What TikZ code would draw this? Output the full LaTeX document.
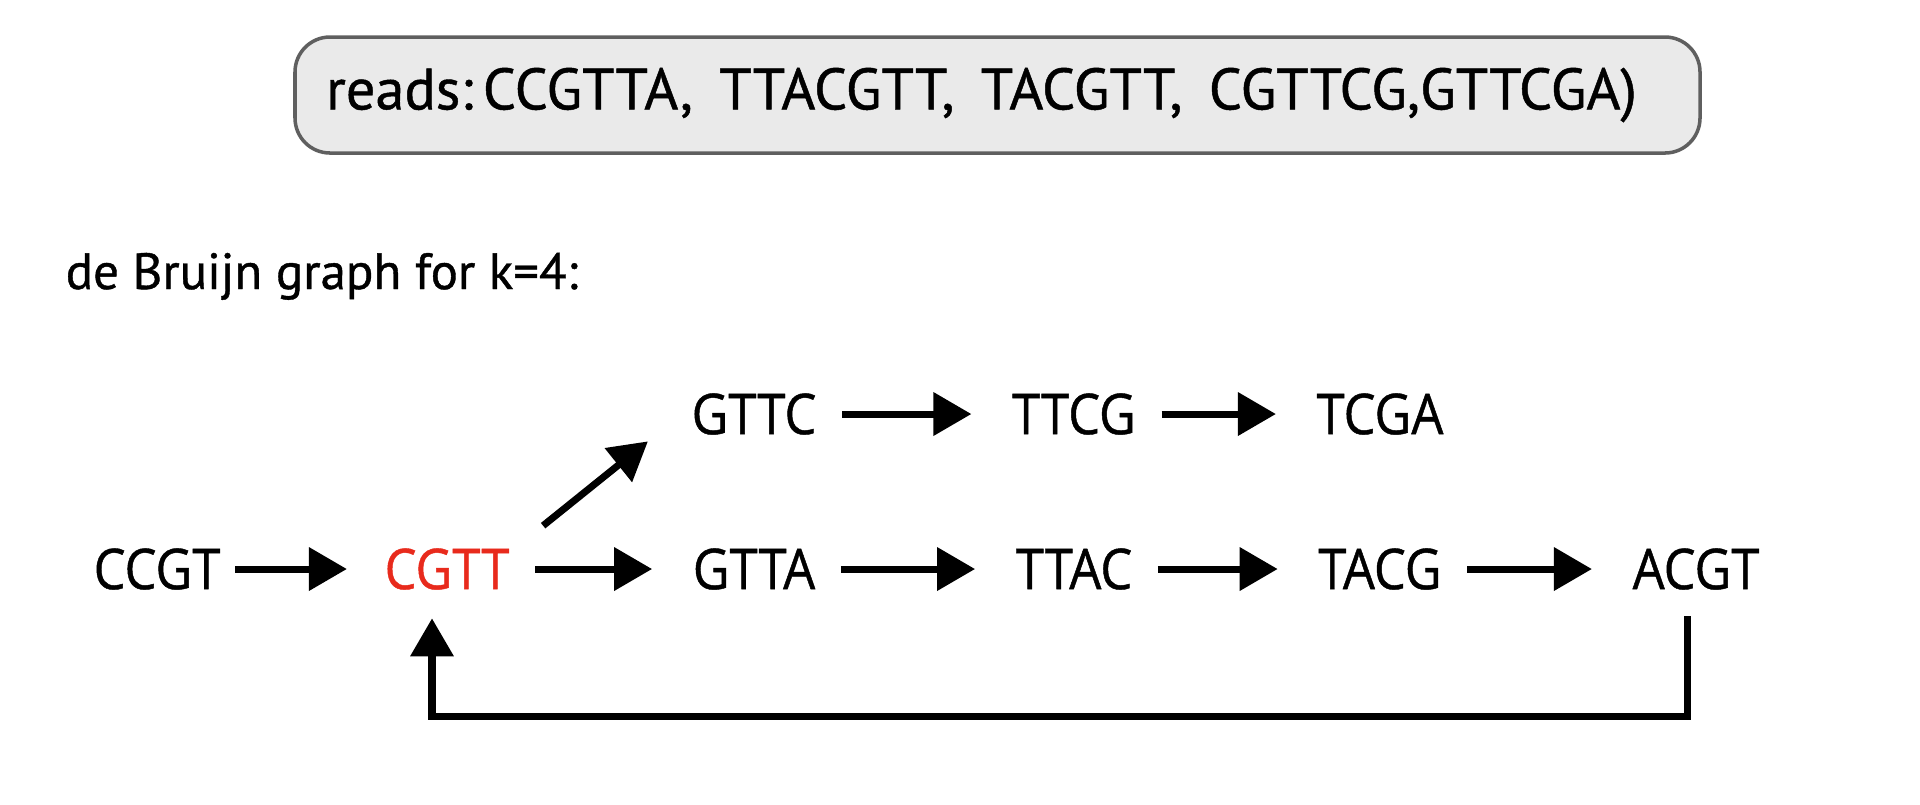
\documentclass[tikz,border=0pt]{standalone}
\usepackage{fontspec}
\usetikzlibrary{arrows.meta}
\newfontfamily\readsfont[FakeBold=0.8]{PT Sans}
\newfontfamily\kmerfont[FakeStretch=0.9,FakeBold=0.8]{Open Sans}
\definecolor{boxgray}{RGB}{234,234,234}
\definecolor{boxline}{RGB}{95,95,95}
\definecolor{kred}{RGB}{232,42,28}

\begin{document}
\begin{tikzpicture}[
  readsbox/.style={rectangle, draw=boxline, fill=boxgray, line width=1pt, rounded corners=0.35cm, text width=13.43cm, inner xsep=0.31cm, align=left, minimum height=1.16cm, font=\readsfont\fontsize{16.6}{19}\selectfont},
  kmer/.style={inner sep=0pt, font=\kmerfont\fontsize{16}{19}\selectfont},
  line/.style={draw, -{Triangle[length=0.38cm,width=0.42cm]}, line width=2pt, shorten <=0.25cm, shorten >=0.4cm}
]
\useasboundingbox (0,0) rectangle (19.2,-8.04);

\node [readsbox] (reads) at (9.975,-0.95) {reads:\,CCGTTA,\hspace{0.45em}TTACGTT,\hspace{0.45em}TACGTT,\hspace{0.45em}CGTTCG,GTTCGA)};
\node [anchor=base west, inner sep=0pt, font=\readsfont\fontsize{14.5}{17}\selectfont] (title) at (0.65,-2.89) {de Bruijn graph for k=4:};

% lower row
\node [kmer] (ccgt) at (1.57,-5.69) {CCGT};
\node [kmer, right of=ccgt, node distance=2.9cm, text=kred] (cgtt) {CGTT};
\node [kmer, right of=cgtt, node distance=3.07cm] (gtta) {GTTA};
\node [kmer, right of=gtta, node distance=3.2cm] (ttac) {TTAC};
\node [kmer, right of=ttac, node distance=3.06cm] (tacg) {TACG};
\node [kmer, right of=tacg, node distance=3.16cm] (acgt) {ACGT};
% upper row
\node [kmer, above of=gtta, node distance=1.55cm] (gttc) {GTTC};
\node [kmer, above of=ttac, node distance=1.55cm] (ttcg) {TTCG};
\node [kmer, above of=tacg, node distance=1.55cm] (tcga) {TCGA};

\path [line, shorten <=0.14cm, shorten >=0.37cm] (ccgt) -- (cgtt);
\path [line] (cgtt) -- (gtta);
\path [line] (gtta) -- (ttac);
\path [line] (ttac) -- (tacg);
\path [line] (tacg) -- (acgt);
\path [line] (gttc) -- (ttcg);
\path [line] (ttcg) -- (tcga);
\path [line, shorten <=0pt, shorten >=0pt] ([shift={(0.33,0.22)}]cgtt.north east) -- ([shift={(-0.43,-0.06)}]gttc.south west);
\path [line, shorten <=0.26cm, shorten >=0.28cm] ([xshift=-0.09cm]acgt.south) -- ++(0,-1.26) -| ([xshift=-0.15cm]cgtt.south);
\end{tikzpicture}
\end{document}
